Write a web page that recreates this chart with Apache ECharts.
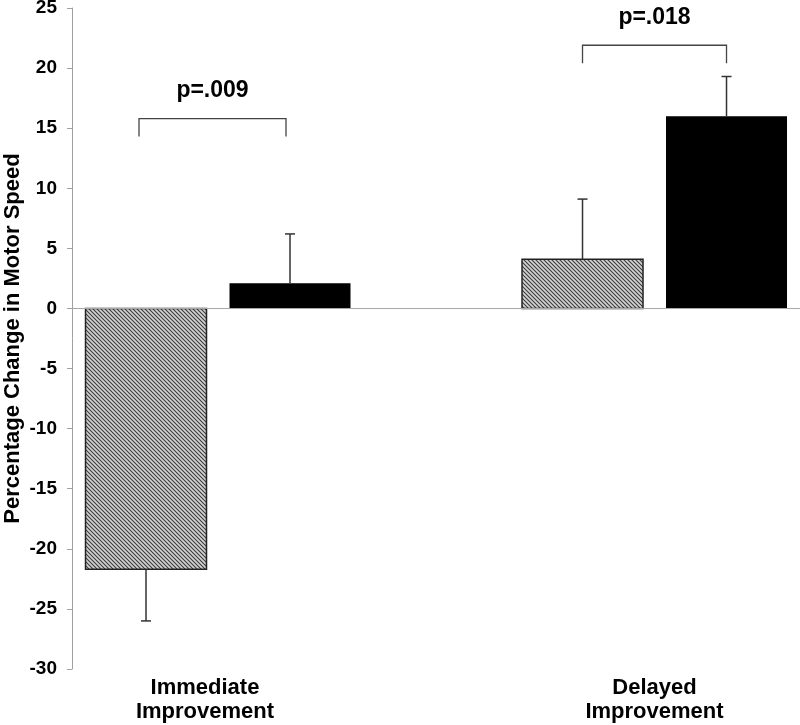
<!DOCTYPE html>
<html>
<head>
<meta charset="utf-8">
<script src="https://cdn.jsdelivr.net/npm/echarts@6/dist/echarts.min.js"></script>
<style>html,body{margin:0;padding:0;background:#fff}#chart{width:800px;height:725px}</style>
</head>
<body>
<div id="chart"></div>
<script>
// ---- data ----
var categories = ['Immediate\nImprovement', 'Delayed\nImprovement'];
var hatchedValues = [-21.7, 4.1];
var hatchedErrors = [4.3, 5.0];
var blackValues = [2.1, 16.0];
var blackErrors = [4.1, 3.3];
var bracketLevels = [15.8, 21.9];
var pLabels = ['p=.009', 'p=.018'];
var yMin = -30, yMax = 25, yStep = 5;

// ---- styling ----
var FONT = "'Liberation Sans', Arial, sans-serif";
var BAR_W = 121;
var GAP_PX = 23;
var OFF = (BAR_W + GAP_PX) / 2;

function hatchPattern() {
  var c = document.createElement('canvas');
  c.width = 4; c.height = 4;
  var ctx = c.getContext('2d');
  ctx.fillStyle = '#d4d4d4';
  ctx.fillRect(0, 0, 4, 4);
  ctx.strokeStyle = '#3a3a3a';
  ctx.lineWidth = 1.1;
  ctx.beginPath();
  ctx.moveTo(-1, -1); ctx.lineTo(5, 5);
  ctx.moveTo(-1, 3); ctx.lineTo(1, 5);
  ctx.moveTo(3, -1); ctx.lineTo(5, 1);
  ctx.stroke();
  return c;
}
var HATCH = { image: hatchPattern(), repeat: 'repeat' };

function pairs(vals, errs) {
  return vals.map(function (v, i) { return errs ? [i, v, errs[i]] : [i, v]; });
}

function barRender(offset, fill, stroke) {
  return function (params, api) {
    var i = api.value(0), v = api.value(1);
    var p0 = api.coord([i, 0]);
    var p1 = api.coord([i, v]);
    var x = p0[0] + offset - BAR_W / 2;
    var y = Math.min(p0[1], p1[1]);
    var h = Math.abs(p1[1] - p0[1]);
    return {
      type: 'rect',
      shape: { x: x, y: y, width: BAR_W, height: h },
      style: stroke ? { fill: fill, stroke: stroke, lineWidth: 1.5 } : { fill: fill }
    };
  };
}

function errorRender(offset) {
  return function (params, api) {
    var i = api.value(0), v = api.value(1), e = api.value(2);
    var end = v < 0 ? v - e : v + e;
    var p0 = api.coord([i, v]);
    var p1 = api.coord([i, end]);
    var x = p0[0] + offset;
    var style = { stroke: '#333', lineWidth: 1.5 };
    return {
      type: 'group',
      children: [
        { type: 'line', shape: { x1: x, y1: p0[1], x2: x, y2: p1[1] }, style: style },
        { type: 'line', shape: { x1: x - 5, y1: p1[1], x2: x + 5, y2: p1[1] }, style: style }
      ]
    };
  };
}

function bracketRender(params, api) {
  var i = api.value(0), lvl = api.value(1);
  var p = api.coord([i, lvl]);
  var xl = p[0] - OFF, xr = p[0] + OFF, y = p[1];
  if (i === 0) { xl -= 7; xr -= 4; }
  return {
    type: 'group',
    children: [
      { type: 'polyline', shape: { points: [[xl, y + 18], [xl, y], [xr, y], [xr, y + 18]] },
        style: { stroke: '#444', lineWidth: 1.3, fill: null } },
      { type: 'text', style: { text: pLabels[params.dataIndex], x: (xl + xr) / 2, y: y - 28,
        align: 'center', verticalAlign: 'middle', font: 'bold 23px ' + FONT, fill: '#000' } }
    ]
  };
}

var chart = echarts.init(document.getElementById('chart'));
chart.setOption({
  animation: false,
  backgroundColor: '#fff',
  grid: { left: 72, right: 0, top: 8, bottom: 56, containLabel: false, outerBoundsMode: 'none' },
  xAxis: {
    type: 'value', min: -0.3345, max: 1.3333,
    axisLine: { show: false }, axisTick: { show: false }, splitLine: { show: false },
    axisLabel: {
      customValues: [0, 1],
      formatter: function (v) {
        var idx = Math.round(v);
        var lines = (categories[idx] || '').split('\n');
        var tag = idx === 0 ? 'l' : 'r';
        return lines.map(function (s) { return '{' + tag + '|' + s + '}'; }).join('\n');
      },
      rich: {
        l: { color: '#000', fontFamily: FONT, fontWeight: 'bold', fontSize: 22, lineHeight: 24, padding: [0, 26, 0, 0] },
        r: { color: '#000', fontFamily: FONT, fontWeight: 'bold', fontSize: 22, lineHeight: 24 }
      },
      color: '#000', fontFamily: FONT, fontWeight: 'bold', fontSize: 22, lineHeight: 24, margin: 7
    }
  },
  yAxis: {
    type: 'value', min: yMin, max: yMax, interval: yStep,
    name: 'Percentage Change in Motor Speed', nameLocation: 'middle', nameGap: 48, nameRotate: 90,
    nameMoveOverlap: false,
    nameTextStyle: { color: '#000', fontFamily: FONT, fontWeight: 'bold', fontSize: 22 },
    axisLine: { show: true, onZero: false, lineStyle: { color: '#a0a0a0', width: 1 } },
    axisTick: { show: true, length: 5, lineStyle: { color: '#a0a0a0' } },
    splitLine: { show: false },
    axisLabel: { color: '#000', fontFamily: FONT, fontWeight: 'bold', fontSize: 19, margin: 15 }
  },
  series: [
    {
      type: 'custom', renderItem: barRender(-OFF, HATCH, '#222'), data: pairs(hatchedValues), z: 2,
      markLine: { silent: true, symbol: 'none', label: { show: false },
        lineStyle: { color: '#a8a8a8', width: 1, type: 'solid' }, data: [{ yAxis: 0 }] }
    },
    { type: 'custom', renderItem: barRender(OFF, '#000', null), data: pairs(blackValues), z: 2 },
    { type: 'custom', renderItem: errorRender(-OFF), data: pairs(hatchedValues, hatchedErrors), z: 3 },
    { type: 'custom', renderItem: errorRender(OFF), data: pairs(blackValues, blackErrors), z: 3 },
    { type: 'custom', renderItem: bracketRender, data: bracketLevels.map(function (l, i) { return [i, l]; }), z: 3 }
  ]
});
</script>
</body>
</html>
